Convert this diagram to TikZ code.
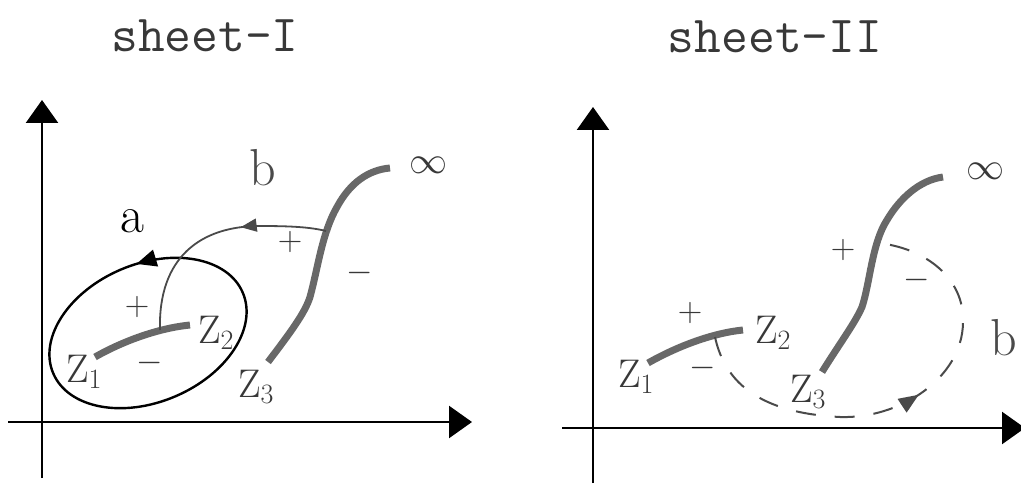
\RequirePackage{fix-cm}
\documentclass[tikz,border=0pt]{standalone}
\usetikzlibrary{arrows.meta, positioning, decorations.markings}
\definecolor{cutgray}{HTML}{686868}
\definecolor{pathgray}{HTML}{4A4A4A}
\definecolor{labgray}{HTML}{383838}

\begin{document}
\begin{tikzpicture}[
    x=1pt, y=1pt,
    axis/.style={line width=2.5pt, -{Triangle[length=23pt, width=32pt]}},
    cut/.style={line width=7pt, cutgray},
    loopa/.style={line width=2.4pt, black},
    pathb/.style={line width=1.8pt, pathgray},
    dashb/.style={line width=2pt, pathgray, dash pattern=on 20pt off 19pt},
    zlabel/.style={text=labgray, font=\fontsize{40}{44}\selectfont},
    sign/.style={text=labgray, font=\fontsize{34}{36}\selectfont},
    letter/.style={font=\fontsize{52}{56}\selectfont},
    inflabel/.style={text=labgray, font=\fontsize{38}{40}\selectfont},
    sheettitle/.style={text=labgray, font=\ttfamily\fontsize{52}{56}\selectfont},
  ]

  \useasboundingbox (0,0) rectangle (1021,483);

  % Titles
  \node[sheettitle] (titleI) at (205,447) {sheet-I};
  \node[sheettitle] (titleII) at (775,446) {sheet-II};

  %% ---------- sheet I ----------
  % Axes
  \coordinate (xaL) at (8,61);    \coordinate (xaR) at (472,61);
  \coordinate (yaB) at (42,5);    \coordinate (yaT) at (42,383);
  \draw[axis] (xaL) -- (xaR);
  \draw[axis] (yaB) -- (yaT);

  % Cuts
  \coordinate (za1) at (95,126);  \coordinate (za2) at (190,158);
  \coordinate (za3) at (268,121); \coordinate (zainf) at (390,315);
  \draw[cut] (za1) .. controls (125,143) and (160,155) .. (za2);
  \draw[cut] (za3) .. controls (290,150) and (305,170) .. (310,186)
    .. controls (318,215) and (322,250) .. (337,276)
    .. controls (350,300) and (368,313) .. (zainf);

  % Loop a
  \coordinate (ca) at (148,150);
  \draw[loopa, rotate around={23:(ca)},
    postaction={decorate, decoration={markings,
      mark=at position 0.22 with {\arrow{Triangle[length=20pt, width=17pt]}}}}]
    (ca) ellipse [x radius=103, y radius=69];

  % Path b
  \coordinate (baS) at (160,153); \coordinate (baE) at (326,252);
  \draw[pathb, postaction={decorate, decoration={markings,
      mark=at position 0.37 with {\arrow{Triangle[length=16pt, width=13pt]}}}}]
    (baE) .. controls (310,256) and (290,257) .. (260,257)
    .. controls (200,257) and (158,225) .. (baS);

  % Labels
  \node[zlabel] (la1) at (84,111) {$\mathrm{Z}_1$};
  \node[zlabel] (la2) at (216,150) {$\mathrm{Z}_2$};
  \node[zlabel] (la3) at (256,96) {$\mathrm{Z}_3$};
  \node[inflabel] (lainf) at (428,318) {$\infty$};
  \node[letter] (lbla) at (132,262) {a};
  \node[letter, text=pathgray] (lblb) at (263,315) {b};
  \node[sign] (pa1) at (137,176) {$+$};
  \node[sign] (ma1) at (150,120) {$-$};
  \node[sign] (pa2) at (290,241) {$+$};
  \node[sign] (ma2) at (360,210) {$-$};

  %% ---------- sheet II ----------
  % Axes
  \coordinate (xbL) at (562,55);  \coordinate (xbR) at (1025,55);
  \coordinate (ybB) at (593,0);   \coordinate (ybT) at (593,376);
  \draw[axis] (xbL) -- (xbR);
  \draw[axis] (ybB) -- (ybT);

  % Cuts
  \coordinate (zb1) at (648,120); \coordinate (zb2) at (743,153);
  \coordinate (zb3) at (822,111); \coordinate (zbinf) at (943,306);
  \draw[cut] (zb1) .. controls (678,137) and (713,150) .. (zb2);
  \draw[cut] (zb3) .. controls (840,140) and (855,160) .. (862,176)
    .. controls (870,200) and (872,240) .. (887,263)
    .. controls (900,285) and (920,303) .. (zbinf);

  % Path b (dashed)
  \coordinate (bbS) at (715,146); \coordinate (bbE) at (878,240);
  \draw[dashb, postaction={decorate, decoration={markings,
      mark=at position 0.53 with {\arrow{Triangle[length=20pt, width=16pt]}}}}]
    (bbS) .. controls (725,100) and (760,70) .. (840,66)
    .. controls (900,64) and (962,105) .. (963,160)
    .. controls (965,205) and (925,235) .. (bbE);

  % Labels
  \node[zlabel] (lb1) at (636,106) {$\mathrm{Z}_1$};
  \node[zlabel] (lb2) at (773,150) {$\mathrm{Z}_2$};
  \node[zlabel] (lb3) at (808,91) {$\mathrm{Z}_3$};
  \node[inflabel] (lbinf) at (985,312) {$\infty$};
  \node[letter, text=pathgray, anchor=west, inner sep=0pt] (lblb2) at (990,145) {b};
  \node[sign] (pb1) at (690,170) {$+$};
  \node[sign] (mb1) at (703,115) {$-$};
  \node[sign] (pb2) at (843,233) {$+$};
  \node[sign] (mb2) at (917,203) {$-$};

\end{tikzpicture}
\end{document}
